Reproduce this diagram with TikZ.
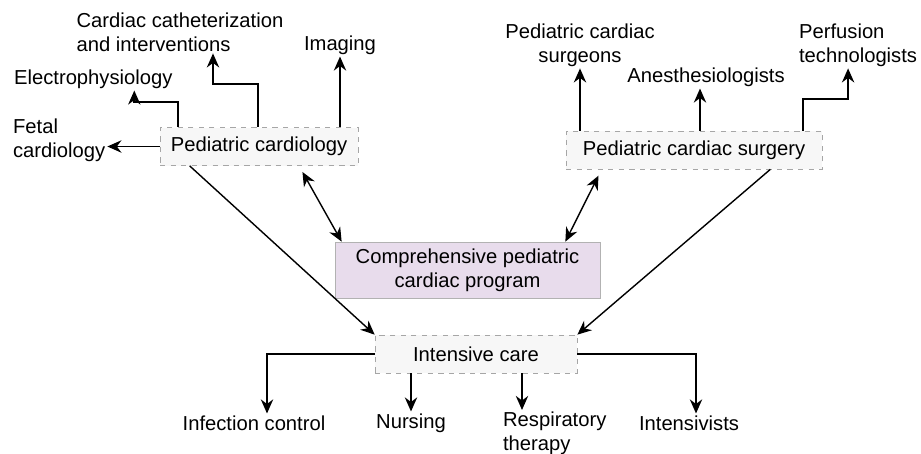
\documentclass[tikz,border=0pt]{standalone}
\usepackage{fontspec}
\setmainfont{Liberation Sans}
\usepackage{xcolor}
\usepackage{tikz}
\usetikzlibrary{positioning,arrows.meta}

\definecolor{progfill}{HTML}{E8DCEC}

\begin{document}
\begin{tikzpicture}[
  font=\fontsize{11.5}{13.5}\selectfont,
  >={Stealth[length=8pt,width=7pt]},
  arr/.style={->, line width=1.1pt},
  diag/.style={->, line width=0.8pt},
  both/.style={<->, line width=0.8pt},
  unit/.style={draw=gray!70, dashed, fill=gray!6, inner sep=2pt,
               minimum width=#1, minimum height=0.76cm},
  prog/.style={draw=gray!60, fill=progfill, align=center,
               minimum width=5.3cm, minimum height=1.12cm},
  lbl/.style={inner sep=1pt, align=#1},
  lbl/.default=center,
]
\useasboundingbox (0,0) rectangle (18.42,-9.06);

%% ===== CENTRE =====
\node[prog] (prog) at (9.35,-5.4) {Comprehensive pediatric\\cardiac program};

\node[unit=3.96cm] (cardio) at (5.18,-2.93) {Pediatric cardiology};
\node[unit=5.12cm] (surg)   at (13.88,-3.0) {Pediatric cardiac surgery};
\node[unit=4.04cm] (icu)    at (9.52,-7.08) {Intensive care};

%% ===== LEFT: CARDIOLOGY BRANCHES =====
\node[lbl=left, anchor=west] (fetal) at (0.22,-2.8) {Fetal\\cardiology};
\node[lbl, anchor=west] (ephys) at (0.24,-1.58) {Electrophysiology};
\node[lbl=left] (cath) at (3.6,-0.64) {Cardiac catheterization\\and interventions};
\node[lbl] (imaging) at (6.8,-0.9) {Imaging};

%% ===== RIGHT: SURGERY BRANCHES =====
\node[lbl] (surgeons) at (11.6,-0.9) {Pediatric cardiac\\surgeons};
\node[lbl] (anest) at (14.12,-1.54) {Anesthesiologists};
\node[lbl=left, anchor=west] (perf) at (15.94,-0.9) {Perfusion\\technologists};

%% ===== BOTTOM: ICU BRANCHES =====
\node[lbl] (infect) at (5.08,-8.46) {Infection control};
\node[lbl] (nurse) at (8.22,-8.46) {Nursing};
\node[lbl=left, anchor=north west] (resp) at (10.02,-8.2) {Respiratory\\therapy};
\node[lbl] (intens) at (13.78,-8.46) {Intensivists};

%% ===== CONNECTING ARROWS =====
\draw[arr] (cardio.west) -- (cardio.west -| fetal.east);
\draw[arr] ([xshift=0.36cm]cardio.north west) -- ++(0,0.5) -| ([xshift=0.82cm]ephys.south);
\draw[arr] ([xshift=1.96cm]cardio.north west) -- ++(0,0.86) -| ([xshift=0.66cm]cath.south);
\draw[arr] (cardio.north -| imaging.south) -- (imaging.south);

\draw[arr] (surg.north -| surgeons.south) -- (surgeons.south);
\draw[arr] ([xshift=-0.12cm]surg.north -| anest.south) -- ([xshift=-0.12cm]anest.south);
\draw[arr] ([xshift=-0.38cm]surg.north east) -- ++(0,0.64) -| ([xshift=-0.2cm]perf.south);

\draw[both, shorten <=4pt] ([xshift=0.8cm]cardio.south) -- ([xshift=0.14cm]prog.north west);
\draw[both, shorten <=4pt] ([xshift=0.72cm]surg.south west) -- ([xshift=-0.7cm]prog.north east);

\draw[diag] ([xshift=0.6cm]cardio.south west) -- (icu.north west);
\draw[diag] ([xshift=-1.04cm]surg.south east) -- (icu.north east);

\draw[arr] (icu.west) -| ([xshift=0.26cm]infect.north);
\draw[arr] (icu.south -| nurse.north) -- (nurse.north);
\draw[arr] (icu.south -| resp.north west) ++(0.42,0) coordinate (rtop) -- (rtop |- resp.north);
\draw[arr] (icu.east) -| ([xshift=0.14cm]intens.north);

\end{tikzpicture}
\end{document}
